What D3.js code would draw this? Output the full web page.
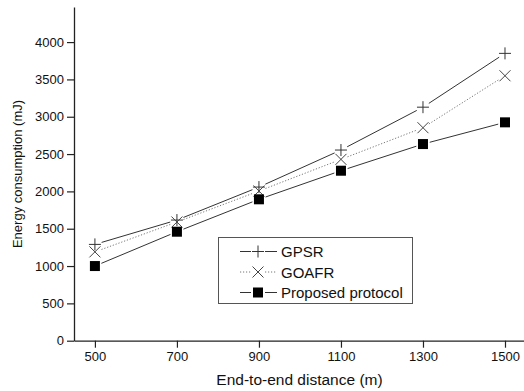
<!DOCTYPE html>
<html><head><meta charset="utf-8">
<script src="https://cdn.jsdelivr.net/npm/d3@7"></script>
<style>body{margin:0;background:#fff}svg{display:block}text{font-family:"Liberation Sans",Arial,sans-serif}</style>
</head><body>
<svg id="c" width="524" height="391"></svg>
<script>
const distances = [500, 700, 900, 1100, 1300, 1500];
const gpsr = [1290, 1616, 2058, 2554, 3128, 3849];
const goafr = [1190, 1590, 2005, 2429, 2853, 3549];
const proposed = [1000, 1460, 1894, 2277, 2634, 2925];
const seriesNames = ["GPSR", "GOAFR", "Proposed protocol"];
const xTicks = [500, 700, 900, 1100, 1300, 1500];
const yTicks = [0, 500, 1000, 1500, 2000, 2500, 3000, 3500, 4000];

const svg = d3.select("#c");
const x = d3.scaleLinear().domain([449, 1550]).range([74, 525.5]);
const y = d3.scaleLinear().domain([0, 4470]).range([340.7, 7]);
const col = "#222";

const gx = svg.append("g").attr("transform", "translate(0,340.7)")
  .call(d3.axisBottom(x).tickValues(xTicks).tickFormat(d3.format("d")).tickSize(7).tickSizeOuter(0).tickPadding(4));
const gy = svg.append("g").attr("transform", "translate(74,0)")
  .call(d3.axisLeft(y).tickValues(yTicks).tickFormat(d3.format("d")).tickSize(7).tickSizeOuter(0).tickPadding(3));
[gx, gy].forEach(g => {
  g.attr("font-size", null).attr("font-family", null);
  g.selectAll("path").attr("stroke", col).attr("stroke-width", 1.3);
  g.selectAll("line").attr("stroke", col).attr("stroke-width", 1.2);
  g.selectAll("text").style("font-size", "13px").attr("fill", "#111");
});

svg.append("text").attr("x", 299.5).attr("y", 385).attr("text-anchor", "middle")
  .style("font-size", "15.5px").attr("fill", "#111").text("End-to-end distance (m)");
svg.append("text").attr("transform", "translate(22,174) rotate(-90)").attr("text-anchor", "middle")
  .style("font-size", "13px").attr("fill", "#111").text("Energy consumption (mJ)");

const series = [
  {name: seriesNames[0], vals: gpsr, dash: null, mk: "plus"},
  {name: seriesNames[1], vals: goafr, dash: "1.2,1.8", mk: "cross"},
  {name: seriesNames[2], vals: proposed, dash: null, mk: "square"}
];

function marker(g, type, cx, cy) {
  if (type === "plus") {
    g.append("path").attr("d", `M${cx-6},${cy}H${cx+6}M${cx},${cy-6}V${cy+6}`)
      .attr("stroke", "#333").attr("stroke-width", 1).attr("fill", "none");
  } else if (type === "cross") {
    g.append("path").attr("d", `M${cx-5.5},${cy-5.5}L${cx+5.5},${cy+5.5}M${cx-5.5},${cy+5.5}L${cx+5.5},${cy-5.5}`)
      .attr("stroke", "#444").attr("stroke-width", 1).attr("fill", "none");
  } else {
    g.append("rect").attr("x", cx-5).attr("y", cy-5).attr("width", 10).attr("height", 10).attr("fill", "#000");
  }
}

const gap = 7;
series.forEach(s => {
  const g = svg.append("g");
  const pts = distances.map((d, i) => [x(d), y(s.vals[i])]);
  for (let i = 0; i < pts.length - 1; i++) {
    const [x1, y1] = pts[i], [x2, y2] = pts[i+1];
    const L = Math.hypot(x2-x1, y2-y1), ux = (x2-x1)/L, uy = (y2-y1)/L;
    g.append("line").attr("x1", x1+ux*gap).attr("y1", y1+uy*gap)
      .attr("x2", x2-ux*gap).attr("y2", y2-uy*gap)
      .attr("stroke", s.dash ? "#777" : "#333").attr("stroke-width", 1)
      .attr("stroke-dasharray", s.dash);
  }
  pts.forEach(p => marker(g, s.mk, p[0], p[1]));
});

// legend
const lg = svg.append("g");
lg.append("rect").attr("x", 218.5).attr("y", 237.5).attr("width", 194).attr("height", 66)
  .attr("fill", "#fff").attr("stroke", "#555").attr("stroke-width", 1);
series.forEach((s, i) => {
  const cy = 251.5 + i * 20.5;
  lg.append("line").attr("x1", 240).attr("x2", 251).attr("y1", cy).attr("y2", cy)
    .attr("stroke", s.dash ? "#777" : "#333").attr("stroke-dasharray", s.dash);
  lg.append("line").attr("x1", 265).attr("x2", 277).attr("y1", cy).attr("y2", cy)
    .attr("stroke", s.dash ? "#777" : "#333").attr("stroke-dasharray", s.dash);
  marker(lg, s.mk, 258, cy);
  lg.append("text").attr("x", 281).attr("y", cy + 5.5).style("font-size", "15px").attr("fill", "#111").text(s.name);
});
</script>
</body></html>
